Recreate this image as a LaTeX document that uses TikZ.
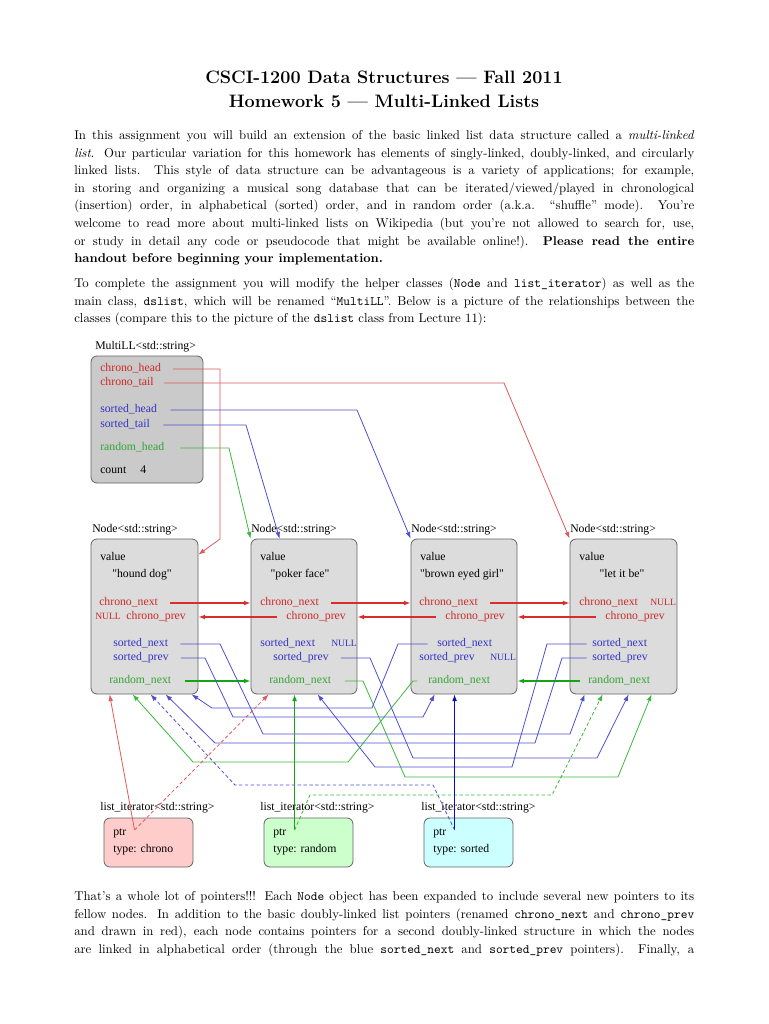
\documentclass[tikz,border=0pt]{standalone}
\usepackage{fontspec}
\newfontfamily\dfont{Liberation Serif}
\usetikzlibrary{fit,calc,arrows.meta}
\definecolor{cred}{RGB}{205,40,40}
\definecolor{cblue}{RGB}{50,50,195}
\definecolor{cgreen}{RGB}{50,165,50}
\definecolor{lred}{RGB}{215,45,45}
\definecolor{pred}{RGB}{225,90,90}
\definecolor{lblue}{RGB}{80,80,210}
\definecolor{dblue}{RGB}{10,10,190}
\definecolor{lgreen}{RGB}{60,185,60}
\definecolor{dgreen}{RGB}{20,165,20}
\definecolor{nodefill}{RGB}{220,220,220}
\definecolor{mlfill}{RGB}{202,202,202}
\definecolor{boxline}{RGB}{100,100,100}
\definecolor{chfill}{RGB}{255,204,204}
\definecolor{rafill}{RGB}{204,255,204}
\definecolor{sofill}{RGB}{204,255,255}
\newcommand{\jline}[1]{\makebox[465pt][s]{#1}}
\tikzset{
  box/.style={draw=boxline, rounded corners=4.5pt, inner sep=0pt, line width=0.6pt},
  fld/.style={font=\dfont\fontsize{8.8}{10}\selectfont, inner sep=0pt, text height=4pt, text depth=0pt, anchor=west},
  nul/.style={fld, font=\dfont\fontsize{7.2}{8}\selectfont},
  rtxt/.style={fld, text=cred},
  btxt/.style={fld, text=cblue},
  gtxt/.style={fld, text=cgreen},
  body/.style={font=\fontsize{9.6}{11}\selectfont, inner sep=0pt, anchor=base west},
  ttl/.style={font=\fontsize{13.5}{16}\selectfont\bfseries, inner sep=0pt, anchor=base},
  tip/.style={-{Latex[length=5pt,width=3.6pt]}},
  rline/.style={tip, draw=pred, line width=0.6pt},
  rthick/.style={tip, draw=lred, line width=1.1pt},
  gthick/.style={tip, draw=dgreen, line width=1.1pt},
  bline/.style={tip, draw=lblue, line width=0.6pt},
  gline/.style={tip, draw=lgreen, line width=0.6pt},
  dsh/.style={dash pattern=on 2.6pt off 1.8pt},
}
\begin{document}
\begin{tikzpicture}[x=0.75pt,y=-0.75pt]
\useasboundingbox[fill=white] (0,0) rectangle (768,1024);

% ---------- text ----------
\node[ttl] (t1) at (384,84) {CSCI-1200 Data Structures — Fall 2011};
\node[ttl] (t2) at (384,108) {Homework 5 — Multi-Linked Lists};

\node[body] (p1a) at (74,139.5) {\jline{In this assignment you will build an extension of the basic linked list data structure called a \emph{multi-linked}}};
\node[body] (p1b) at (74,157.1) {\jline{\emph{list}. Our particular variation for this homework has elements of singly-linked, doubly-linked, and circularly}};
\node[body] (p1c) at (74,174.7) {\jline{linked lists.\ \ This style of data structure can be advantageous is a variety of applications; for example,}};
\node[body] (p1d) at (74,192.3) {\jline{in storing and organizing a musical song database that can be iterated/viewed/played in chronological}};
\node[body] (p1e) at (74,209.9) {\jline{(insertion) order, in alphabetical (sorted) order, and in random order (a.k.a.\ \ “shuffle” mode).\ \ You’re}};
\node[body] (p1f) at (74,227.5) {\jline{welcome to read more about multi-linked lists on Wikipedia (but you’re not allowed to search for, use,}};
\node[body] (p1g) at (74,245.1) {\jline{or study in detail any code or pseudocode that might be available online!).\ \ \textbf{Please read the entire}}};
\node[body] (p1h) at (74,262.7) {\textbf{handout before beginning your implementation.}};

\node[body] (p2a) at (74,287.5) {\jline{To complete the assignment you will modify the helper classes (\texttt{Node} and \texttt{list\_iterator}) as well as the}};
\node[body] (p2b) at (74,305) {\jline{main class, \texttt{dslist}, which will be renamed “\texttt{MultiLL}”. Below is a picture of the relationships between the}};
\node[body] (p2c) at (74,322.5) {classes (compare this to the picture of the \texttt{dslist} class from Lecture 11):};

\node[body] (p3a) at (74,900.5) {\jline{That’s a whole lot of pointers!!! Each \texttt{Node} object has been expanded to include several new pointers to its}};
\node[body] (p3b) at (74,918) {\jline{fellow nodes. In addition to the basic doubly-linked list pointers (renamed \texttt{chrono\_next} and \texttt{chrono\_prev}}};
\node[body] (p3c) at (74,935.5) {\jline{and drawn in red), each node contains pointers for a second doubly-linked structure in which the nodes}};
\node[body] (p3d) at (74,953) {\jline{are linked in alphabetical order (through the blue \texttt{sorted\_next} and \texttt{sorted\_prev} pointers).\ \ Finally, a}};

% ---------- boxes ----------
\node[box, fill=mlfill, fit={(91,356)(203,483)}] (ml) {};
\node[box, fill=nodefill, fit={(91,539)(198,694)}] (n1) {};
\node[box, fill=nodefill, fit={(251,539)(357,694)}] (n2) {};
\node[box, fill=nodefill, fit={(411,539)(517,694)}] (n3) {};
\node[box, fill=nodefill, fit={(570,539)(677,694)}] (n4) {};
\node[box, fill=chfill, fit={(104,818)(193,867)}] (i1) {};
\node[box, fill=rafill, fit={(264,818)(353,867)}] (i2) {};
\node[box, fill=sofill, fit={(424,818)(513,867)}] (i3) {};

% ---------- labels ----------
\node[fld] (mlname) at (95,347) {MultiLL<std::string>};
\node[fld] (n1name) at (92,530) {Node<std::string>};
\node[fld] (n2name) at (251,530) {Node<std::string>};
\node[fld] (n3name) at (411,530) {Node<std::string>};
\node[fld] (n4name) at (570,530) {Node<std::string>};
\node[fld] (i1name) at (100,808) {list\_iterator<std::string>};
\node[fld] (i2name) at (260,808) {list\_iterator<std::string>};
\node[fld] (i3name) at (421,808) {list\_iterator<std::string>};

% ---------- MultiLL fields ----------
\node[rtxt] (chh) at (100,369) {chrono\_head};
\node[rtxt] (cht) at (100,383) {chrono\_tail};
\node[btxt] (soh) at (100,410) {sorted\_head};
\node[btxt] (sot) at (100,425) {sorted\_tail};
\node[gtxt] (rah) at (100,448) {random\_head};
\node[fld] (cnt) at (100,471) {count};
\node[fld] (cntv) at (140,471) {4};

% ---------- node 1 : hound dog ----------
\node[fld] (n1v) at (100,558) {value};
\node[fld,anchor=center] (n1s) at (142,575) {"hound dog"};
\node[rtxt] (n1cn) at (99,603) {chrono\_next};
\node[nul,text=cred] (n1nul) at (95,617) {NULL};
\node[rtxt,anchor=east] (n1cp) at (186,617) {chrono\_prev};
\node[btxt] (n1sn) at (113,644) {sorted\_next};
\node[btxt] (n1sp) at (113,658) {sorted\_prev};
\node[gtxt] (n1rn) at (109,681) {random\_next};

% ---------- node 2 : poker face ----------
\node[fld] (n2v) at (260,558) {value};
\node[fld,anchor=center] (n2s) at (300,575) {"poker face"};
\node[rtxt] (n2cn) at (260,603) {chrono\_next};
\node[rtxt,anchor=east] (n2cp) at (346,617) {chrono\_prev};
\node[btxt] (n2sn) at (260,644) {sorted\_next};
\node[nul,text=cblue] (n2nul) at (331,644) {NULL};
\node[btxt] (n2sp) at (273,658) {sorted\_prev};
\node[gtxt] (n2rn) at (269,681) {random\_next};

% ---------- node 3 : brown eyed girl ----------
\node[fld] (n3v) at (420,558) {value};
\node[fld,anchor=center] (n3s) at (462,575) {"brown eyed girl"};
\node[rtxt] (n3cn) at (419,603) {chrono\_next};
\node[rtxt,anchor=east] (n3cp) at (505,617) {chrono\_prev};
\node[btxt] (n3sn) at (437,644) {sorted\_next};
\node[btxt] (n3sp) at (419,658) {sorted\_prev};
\node[nul,text=cblue] (n3nul) at (490,658) {NULL};
\node[gtxt] (n3rn) at (428,681) {random\_next};

% ---------- node 4 : let it be ----------
\node[fld] (n4v) at (579,558) {value};
\node[fld,anchor=center] (n4s) at (622,575) {"let it be"};
\node[rtxt] (n4cn) at (579,603) {chrono\_next};
\node[nul,text=cred] (n4nul) at (650,603) {NULL};
\node[rtxt,anchor=east] (n4cp) at (665,617) {chrono\_prev};
\node[btxt] (n4sn) at (592,644) {sorted\_next};
\node[btxt] (n4sp) at (592,658) {sorted\_prev};
\node[gtxt] (n4rn) at (588,681) {random\_next};

% ---------- iterators ----------
\node[fld] (i1p) at (113,833) {ptr};
\node[fld] (i1t) at (113,850) {type: chrono};
\node[fld] (i2p) at (273,833) {ptr};
\node[fld] (i2t) at (273,850) {type: random};
\node[fld] (i3p) at (433,833) {ptr};
\node[fld] (i3t) at (433,850) {type: sorted};
\coordinate (i1o) at ($(i1p.east)+(8,-3)$);
\coordinate (i2o) at ($(i2p.east)+(8,-3)$);
\coordinate (i3o) at ($(i3p.east)+(8,-3)$);

% ---------- MultiLL pointers ----------
\draw[rline] ([xshift=9pt]chh.east) -- (220,369) -- (220,539) -- ([yshift=-12pt]n1.north east);
\draw[rline] ([xshift=7.5pt]cht.east) -- (504,383) -- (n4.north west);
\draw[bline] ([xshift=10pt]soh.east) -- (357,410) -- (n3.north west);
\draw[bline] ([xshift=10pt]sot.east) -- (246,425) -- ($(n2.north west)+(29,0)$);
\draw[gline] ([xshift=12pt]rah.east) -- (229,448) -- (n2.north west);

% ---------- chrono ----------
\draw[rthick] ([xshift=9pt]n1cn.east) -- (n2.west |- n1cn.east);
\draw[rthick] ([xshift=9pt]n2cn.east) -- (n3.west |- n2cn.east);
\draw[rthick] ([xshift=9pt]n3cn.east) -- (n4.west |- n3cn.east);
\draw[rthick] ([xshift=-7pt]n2cp.west) -- (n1.east |- n2cp.west);
\draw[rthick] ([xshift=-7pt]n3cp.west) -- (n2.east |- n3cp.west);
\draw[rthick] ([xshift=-7pt]n4cp.west) -- (n3.east |- n4cp.west);

% ---------- random ----------
\draw[gthick] ([xshift=10pt]n1rn.east) -- (n2.west |- n1rn.east);
\draw[gthick] ([xshift=-6pt]n4rn.west) -- (n3.east |- n4rn.west);
\draw[gline] ([xshift=10pt]n2rn.east) -- (363,681) -- (405,777) -- (618,777) -- ($(n4.south west)+(82,0)$);
\draw[gline] ([xshift=-8pt]n3rn.west) -- (413,681) -- (348,762) -- (193,762) -- ($(n1.south west)+(42,0)$);

% ---------- sorted ----------
\draw[bline] ([xshift=9pt]n1sn.east) -- (220,644) -- (263,734) -- (570,734) -- ($(n4.south west)+(15,0)$);
\draw[bline] ([xshift=9pt]n1sp.east) -- (205,658) -- (233,717) -- (423,717) -- ($(n3.south west)+(24,0)$);
\draw[bline] ([xshift=9pt]n2sp.east) -- (370,658) -- (413,758) -- (597,758) -- ($(n4.south west)+(59,0)$);
\draw[bline] ([xshift=-7pt]n3sn.west) -- (398,644) -- (372,708) -- (212,708) -- ($(n1.south west)+(101,0)$);
\draw[bline] ([xshift=-4pt]n4sn.west) -- (547,644) -- (512,767) -- (375,767) -- ($(n2.south west)+(67,0)$);
\draw[bline] ([xshift=-4pt]n4sp.west) -- (562,658) -- (535,743) -- (215,743) -- ($(n1.south west)+(75,0)$);

% ---------- iterator pointers ----------
\draw[tip, draw=pred, line width=0.6pt] (i1o) -- ($(n1.south west)+(19,0)$);
\draw[tip, draw=pred, line width=0.6pt, dsh] (i1o) -- ($(n2.south west)+(18,0)$);
\draw[tip, draw=dgreen, line width=0.8pt] (i2o) -- (i2o |- n2.south);
\draw[tip, draw=lgreen, line width=0.6pt, dsh] (i2o) -- (310,795) -- (552,795) -- ($(n4.south west)+(33,0)$);
\draw[tip, draw=dblue, line width=0.8pt] (i3o) -- (i3o |- n3.south);
\draw[tip, draw=lblue, line width=0.6pt, dsh] (i3o) -- (433,785) -- (235,785) -- ($(n1.south west)+(60,0)$);
\end{tikzpicture}
\end{document}
